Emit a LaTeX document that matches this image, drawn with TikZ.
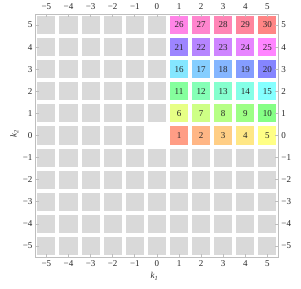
\documentclass[tikz,border=0pt]{standalone}
\usepackage{fontspec}
\setmainfont{Liberation Serif}
\usepackage{tikz}

\definecolor{framecol}{RGB}{190,190,190}
\definecolor{offcell}{RGB}{217,217,217}
\newcommand{\tlab}[1]{\ifnum#1<0 −\the\numexpr-#1\relax\else#1\fi}

\begin{document}
\begin{tikzpicture}[x=0.5cm,y=0.5cm,every node/.style={font=\fontsize{5.8}{7}\selectfont,text=black!85},
  graycell/.style={fill=offcell,minimum size=0.41cm,inner sep=0pt},
  numcell/.style={minimum size=0.41cm,inner sep=0pt}]
\useasboundingbox (-7.10,-6.94) rectangle (6.52,6.13);
% grey cells
\foreach \j in {-5,...,-1} \foreach \i in {-5,...,5} \node[graycell] (g\i\j) at (\i,\j) {};
\foreach \j in {1,...,5} \foreach \i in {-5,...,0} \node[graycell] (g\i\j) at (\i,\j) {};
\foreach \i in {-5,...,-1} \node[graycell] (g\i0) at (\i,0) {};
% numbered cells
\foreach \j in {0,...,5} \foreach \i in {1,...,5} {
  \pgfmathtruncatemacro\n{5*\j+\i}
  \pgfmathsetmacro\h{mod(\n,30)/30}
  \convertcolorspec{hsb}{\h,0.48,1}{rgb}\cellrgb
  \definecolor{cellfill}{rgb}{\cellrgb}
  \node[numcell,fill=cellfill] (n\n) at (\i,\j) {\n};
}
% frame
\draw[framecol,line width=0.5pt] (-5.5,-5.5) rectangle (5.5,5.5);
\foreach \k in {-5,...,5} {
  \draw[framecol,line width=0.4pt] (\k,5.5) -- ++(0,-0.15);
  \draw[framecol,line width=0.4pt] (\k,-5.5) -- ++(0,0.15);
  \draw[framecol,line width=0.4pt] (-5.5,\k) -- ++(0.15,0);
  \draw[framecol,line width=0.4pt] (5.5,\k) -- ++(-0.15,0);
  \node (top\k) at (\k,5.85) {\tlab{\k}};
  \node (bot\k) at (\k,-5.8) {\tlab{\k}};
  \node[anchor=east,inner sep=0pt] (lft\k) at (-5.62,\k) {\tlab{\k}};
  \node[anchor=west,inner sep=0pt] (rgt\k) at (5.62,\k) {\tlab{\k}};
}
\node (xlab) at (-0.1,-6.38) {\itshape k\textsubscript{1}};
\node[rotate=90] (ylab) at (-6.45,0.1) {\itshape k\textsubscript{2}};
\end{tikzpicture}
\end{document}
